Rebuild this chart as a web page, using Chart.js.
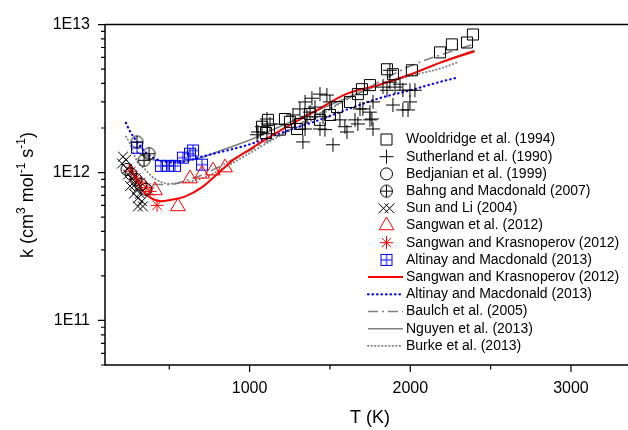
<!DOCTYPE html>
<html>
<head>
<meta charset="utf-8">
<script src="https://cdn.jsdelivr.net/npm/chart.js@4.4.1/dist/chart.umd.min.js"></script>
<style>
  html, body { margin: 0; padding: 0; background: #fff; overflow: hidden; }
  #wrap { width: 628px; height: 430px; position: relative; }
</style>
</head>
<body>
<div id="wrap"><canvas id="chart"></canvas></div>
<script>
// ---- measured data (T in K, k in cm3 mol-1 s-1) ----
const woolT = [1077, 1102, 1114, 1220, 1251, 1189, 1295, 1313, 1376, 1438, 1500, 1544, 1625, 1674, 1699, 1749, 1855, 1892, 2010, 2185, 2259, 2353, 2390];
const woolK = [2.04e12, 1.85e12, 2.27e12, 2.30e12, 2.20e12, 1.95e12, 1.97e12, 2.13e12, 2.49e12, 2.27e12, 2.45e12, 2.77e12, 3.0e12, 3.39e12, 3.66e12, 3.9e12, 4.99e12, 4.62e12, 4.91e12, 6.49e12, 7.35e12, 7.57e12, 8.57e12];

const suthT = [1052, 1077, 1108, 1127, 1046, 1108, 1332, 1519, 1345, 1388, 1438, 1481, 1500, 1407, 1376, 1457, 1438, 1469, 1562, 1593, 1606, 1656, 1674, 1705, 1749, 1749, 1768, 1768, 1830, 1855, 1873, 1905, 1936, 1954, 1998, 2029, 1892, 1954, 1986, 1998, 1873, 1687, 1761, 1313, 1270, 1345, 1357];
const suthK = [1.88e12, 2.04e12, 2.30e12, 2.13e12, 1.80e12, 1.83e12, 1.61e12, 1.54e12, 3.0e12, 3.18e12, 3.39e12, 3.34e12, 3.0e12, 2.77e12, 2.56e12, 2.38e12, 1.97e12, 1.95e12, 2.27e12, 2.04e12, 1.88e12, 2.27e12, 2.13e12, 2.69e12, 2.56e12, 2.27e12, 1.97e12, 3.0e12, 3.78e12, 3.6e12, 4.08e12, 3.78e12, 3.96e12, 3.6e12, 3.6e12, 3.6e12, 2.86e12, 2.65e12, 2.65e12, 3.0e12, 4.91e12, 2.69e12, 2.30e12, 2.69e12, 2.45e12, 1.97e12, 2.38e12];

const bedjT = [237, 262, 293, 324, 355];
const bedjK = [1.05e12, 9.8e11, 8.98e11, 8.3e11, 7.7e11];

const bahngT = [299, 374, 343];
const bahngK = [1.61e12, 1.34e12, 1.21e12];

const sunT = [212, 206, 237, 243, 268, 287, 299, 318, 305, 330, 305, 336, 231, 256, 280];
const sunK = [1.28e12, 1.15e12, 1.06e12, 9.7e11, 9.1e11, 8.3e11, 7.7e11, 7.2e11, 6.7e11, 6.4e11, 5.9e11, 5.9e11, 1.22e12, 8.1e11, 7.2e11];

const sangT = [411, 554, 629, 704, 772, 847];
const sangK = [7.57e11, 5.9e11, 9.1e11, 9.8e11, 1.03e12, 1.08e12];

const skT = [262, 293, 324, 355, 380, 424];
const skK = [1.02e12, 9.2e11, 8.6e11, 7.9e11, 7.45e11, 6.0e11];

const altT = [299, 448, 492, 536, 585, 629, 648, 704];
const altK = [1.47e12, 1.11e12, 1.11e12, 1.11e12, 1.26e12, 1.34e12, 1.41e12, 1.13e12];

// ---- fitted / evaluated expressions ----
const skFitT = [250, 300, 350, 400, 450, 500, 600, 700, 800, 900, 1000, 1200, 1400, 1600, 1800, 2000, 2200, 2400];
const skFitK = [1.13e12, 8.7e11, 7.2e11, 6.6e11, 6.4e11, 6.5e11, 6.9e11, 7.9e11, 9.8e11, 1.22e12, 1.43e12, 1.95e12, 2.57e12, 3.39e12, 3.9e12, 4.6e12, 5.6e12, 6.6e12];

const altFitT = [230, 250, 300, 350, 400, 500, 600, 700, 800, 1000, 1200, 1400, 1600, 1800, 2000, 2200, 2280];
const altFitK = [2.17e12, 1.95e12, 1.61e12, 1.38e12, 1.26e12, 1.17e12, 1.19e12, 1.28e12, 1.36e12, 1.55e12, 1.86e12, 2.2e12, 2.65e12, 3.16e12, 3.6e12, 4.14e12, 4.35e12];

const baulchT = [400, 500, 600, 700, 800, 1000, 1200, 1400, 1600, 1800, 2000, 2200, 2400];
const baulchK = [8.3e11, 8.3e11, 8.8e11, 9.6e11, 1.08e12, 1.41e12, 1.82e12, 2.4e12, 3.1e12, 4.07e12, 5.25e12, 6.3e12, 7.4e12];

const nguyenT = [300, 350, 400, 500, 600, 700, 800, 1000, 1200, 1500, 1800, 2000, 2200, 2400];
const nguyenK = [1.38e12, 1.28e12, 1.22e12, 1.19e12, 1.2e12, 1.26e12, 1.38e12, 1.66e12, 2.07e12, 2.86e12, 3.89e12, 4.6e12, 5.6e12, 6.7e12];

const burkeT = [230, 250, 300, 350, 400, 500, 600, 700, 800, 1000, 1200, 1400, 1600, 1800, 2000, 2200, 2300];
const burkeK = [1.75e12, 1.61e12, 1.19e12, 1.05e12, 9.25e11, 8.4e11, 8.6e11, 9.1e11, 1.02e12, 1.35e12, 1.8e12, 2.3e12, 3.1e12, 3.9e12, 4.5e12, 5.1e12, 5.6e12];

const xTickVals = [1000, 2000, 3000];
const yTickVals = [1e11, 1e12, 1e13];

const pts = (xs, ys) => xs.map((x, i) => ({x: x, y: ys[i]}));

// custom marker images
function marker(size, draw) {
    const c = document.createElement('canvas');
    c.width = size; c.height = size;
    const g = c.getContext('2d');
    draw(g, size / 2);
    return c;
}
const circlePlus = marker(15, (g, m) => {
    g.strokeStyle = '#000'; g.lineWidth = 1;
    g.beginPath(); g.arc(m, m, 6, 0, Math.PI * 2); g.stroke();
    g.beginPath(); g.moveTo(m - 6, m); g.lineTo(m + 6, m); g.moveTo(m, m - 6); g.lineTo(m, m + 6); g.stroke();
});
const squarePlus = marker(14, (g, m) => {
    g.strokeStyle = '#0000ff'; g.lineWidth = 1;
    g.strokeRect(m - 5.5, m - 5.5, 11, 11);
    g.beginPath(); g.moveTo(m - 5.5, m); g.lineTo(m + 5.5, m); g.moveTo(m, m - 5.5); g.lineTo(m, m + 5.5); g.stroke();
});

const scatterSet = (label, data, style, radius, color) => ({
    label: label, data: data, showLine: false,
    pointStyle: style, pointRadius: radius, pointHoverRadius: radius,
    pointBorderColor: color, pointBackgroundColor: 'rgba(0,0,0,0)', pointBorderWidth: 1
});
const lineSet = (label, data, color, dash, width, cap) => ({
    label: label, data: data, showLine: true, pointRadius: 0,
    borderColor: color, borderWidth: width, borderDash: dash, borderCapStyle: cap || 'butt',
    cubicInterpolationMode: 'monotone', fill: false
});

const datasets = [
    scatterSet('Wooldridge et al. (1994)', pts(woolT, woolK), 'rect', 7.8, '#000'),
    scatterSet('Sutherland et al. (1990)', pts(suthT, suthK), 'cross', 7, '#000'),
    scatterSet('Bedjanian et al. (1999)', pts(bedjT, bedjK), 'circle', 6, '#000'),
    scatterSet('Bahng and Macdonald (2007)', pts(bahngT, bahngK), circlePlus, 7, '#000'),
    scatterSet('Sun and Li (2004)', pts(sunT, sunK), 'crossRot', 7, '#000'),
    scatterSet('Sangwan et al. (2012)', pts(sangT, sangK), 'triangle', 8.5, '#ff0000'),
    scatterSet('Sangwan and Krasnoperov (2012)', pts(skT, skK), 'star', 6.5, '#ff0000'),
    scatterSet('Altinay and Macdonald (2013)', pts(altT, altK), squarePlus, 7, '#0000ff'),
    lineSet('Sangwan and Krasnoperov (2012)', pts(skFitT, skFitK), '#ff0000', [], 2),
    lineSet('Altinay and Macdonald (2013)', pts(altFitT, altFitK), '#0000ff', [0.5, 4], 2.2, 'round'),
    lineSet('Baulch et al. (2005)', pts(baulchT, baulchK), '#808080', [10, 4, 2, 4], 1.6),
    lineSet('Nguyen et al. (2013)', pts(nguyenT, nguyenK), '#808080', [], 1.6),
    lineSet('Burke et al. (2013)', pts(burkeT, burkeK), '#808080', [0.5, 3], 1.8, 'round')
];

const font = '"Liberation Sans", Arial, sans-serif';

const framePlugin = {
    id: 'frame',
    afterDraw(chart) {
        const ctx = chart.ctx;
        const a = chart.chartArea;
        const xs = chart.scales.x, ys = chart.scales.y;
        ctx.save();
        ctx.strokeStyle = '#000';
        ctx.lineWidth = 1.5;
        ctx.beginPath();
        ctx.moveTo(a.left, a.top); ctx.lineTo(a.right, a.top);
        ctx.moveTo(a.left, a.top); ctx.lineTo(a.left, a.bottom);
        ctx.moveTo(a.left - 0.75, a.bottom); ctx.lineTo(a.right, a.bottom);
        ctx.stroke();
        // y ticks (log decades + minor)
        ctx.lineWidth = 1.2;
        ctx.beginPath();
        for (let d = 10; d <= 13; d++) {
            for (let m = 1; m <= 9; m++) {
                const v = m * Math.pow(10, d);
                if (v < ys.min - 1 || v > ys.max + 1) continue;
                const p = ys.getPixelForValue(v);
                const len = m === 1 ? 7 : 4;
                ctx.moveTo(a.left, p); ctx.lineTo(a.left - len, p);
            }
        }
        // x ticks
        [500, 1000, 1500, 2000, 2500, 3000].forEach(v => {
            const p = xs.getPixelForValue(v);
            const len = v % 1000 === 0 ? 7 : 4.5;
            ctx.moveTo(p, a.bottom); ctx.lineTo(p, a.bottom + len);
        });
        ctx.stroke();

        // axis titles
        ctx.fillStyle = '#000';
        ctx.font = '18px ' + font;
        ctx.textAlign = 'center';
        ctx.textBaseline = 'middle';
        ctx.fillText('T (K)', 370, 418);

        const parts = [['k (cm', 18, 0], ['3', 12, -8], [' mol', 18, 0], ['-1', 12, -8], [' s', 18, 0], ['-1', 12, -8], [')', 18, 0]];
        let total = 0;
        parts.forEach(p => { ctx.font = p[1] + 'px ' + font; total += ctx.measureText(p[0]).width; });
        ctx.translate(33, 195);
        ctx.rotate(-Math.PI / 2);
        ctx.textAlign = 'left';
        ctx.textBaseline = 'alphabetic';
        let cx = -total / 2;
        parts.forEach(p => {
            ctx.font = p[1] + 'px ' + font;
            ctx.fillText(p[0], cx, p[2]);
            cx += ctx.measureText(p[0]).width;
        });
        ctx.restore();

        // legend
        ctx.save();
        const x0 = 386.5, y0 = 139.5, dy = 17.2;
        chart.data.datasets.forEach((ds, i) => {
            const y = y0 + i * dy;
            if (ds.showLine) {
                ctx.strokeStyle = ds.borderColor;
                ctx.lineWidth = ds.borderWidth;
                ctx.lineCap = ds.borderCapStyle;
                ctx.setLineDash(ds.borderDash);
                ctx.beginPath(); ctx.moveTo(368, y); ctx.lineTo(403, y); ctx.stroke();
                ctx.setLineDash([]);
            } else {
                ctx.strokeStyle = ds.pointBorderColor;
                ctx.fillStyle = 'rgba(0,0,0,0)';
                ctx.lineWidth = 1;
                ctx.lineCap = 'butt';
                const opts = {pointStyle: ds.pointStyle, radius: ds.pointRadius, rotation: 0, borderWidth: 1};
                if (ds.pointStyle === 'crossRot') {
                    Chart.helpers.drawPoint(ctx, opts, x0 - 3, y);
                    Chart.helpers.drawPoint(ctx, opts, x0 + 3, y);
                } else {
                    Chart.helpers.drawPoint(ctx, opts, x0, y);
                }
            }
            ctx.fillStyle = '#000';
            ctx.font = '14px ' + font;
            ctx.textAlign = 'left';
            ctx.textBaseline = 'middle';
            ctx.fillText(ds.label, 406, y);
        });
        ctx.restore();
    }
};

new Chart(document.getElementById('chart'), {
    type: 'scatter',
    data: {datasets: datasets},
    options: {
        responsive: true,
        maintainAspectRatio: false,
        animation: false,
        layout: {autoPadding: false, padding: {top: 22, left: 0, right: 0, bottom: 0}},
        plugins: {legend: {display: false}, tooltip: {enabled: false}},
        scales: {
            x: {
                type: 'linear',
                min: 100,
                max: 3355,
                grid: {display: true, drawOnChartArea: false, drawTicks: false},
                border: {display: false},
                afterBuildTicks: s => { s.ticks = xTickVals.map(v => ({value: v})); },
                afterFit: s => { s.height = 65; },
                ticks: {
                    color: '#000', padding: 14, maxRotation: 0,
                    font: {size: 16, family: font},
                    callback: v => String(v)
                }
            },
            y: {
                type: 'logarithmic',
                min: 5e10,
                max: 1e13,
                grid: {display: true, drawOnChartArea: false, drawTicks: false},
                border: {display: false},
                afterBuildTicks: s => { s.ticks = yTickVals.map(v => ({value: v})); },
                afterFit: s => { s.width = 105; },
                ticks: {
                    color: '#000', padding: 15,
                    font: {size: 16, family: font},
                    callback: v => '1E' + Math.round(Math.log10(v))
                }
            }
        }
    },
    plugins: [framePlugin]
});
</script>
</body>
</html>
